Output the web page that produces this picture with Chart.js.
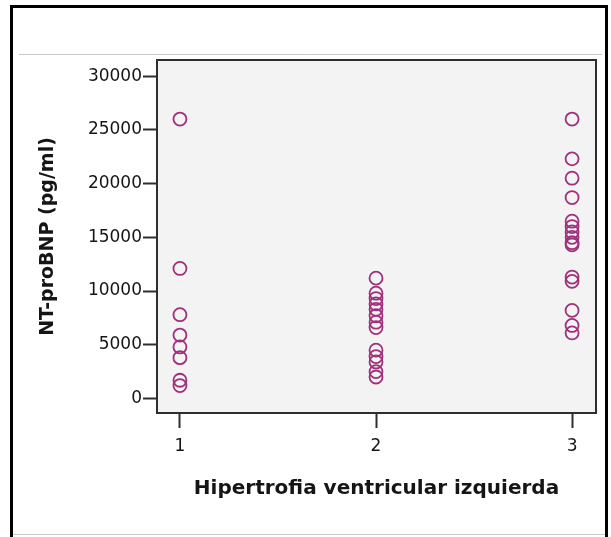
<!DOCTYPE html>
<html>
<head>
<meta charset="utf-8">
<script src="https://cdn.jsdelivr.net/npm/chart.js@4.4.1/dist/chart.umd.min.js"></script>
<style>
	html, body { margin: 0; padding: 0; background: #ffffff; }
	#wrap { width: 611px; height: 537px; }
</style>
</head>
<body>
<div id="wrap"><canvas id="chart" width="611" height="537"></canvas></div>
<script>

// values, one list per group
let groups = [1, 2, 3];
let group1 = [26000, 12100, 7800, 5900, 4800, 3800, 1700, 1200];
let group2 = [11200, 9800, 9300, 8800, 8300, 7700, 7100, 6600, 4500, 3900, 3400, 2500, 2000];
let group3 = [26000, 22300, 20500, 18700, 16500, 16000, 15500, 15000, 14500, 14300, 11300, 10900, 8200, 6800, 6100];

let yTicks = [0, 5000, 10000, 15000, 20000, 25000, 30000];
let xTicks = [1, 2, 3];

let xTitle = "Hipertrofia ventricular izquierda";
let yTitle = "NT-proBNP (pg/ml)";

let pointColor = "#a0307c";
let boxColor = "#2e2e2e";
let textColor = "#151515";

function toPoints(group, values) {

	return values.map(function(v) {
		return { x: group, y: v };
	});

}

let allPoints = [];
[group1, group2, group3].forEach(function(values, i) {

	allPoints = allPoints.concat(toPoints(groups[i], values));

});

// page frame and the grey plot box behind the points
let frame = {
	id: "frame",
	beforeDraw: function(chart) {

		let ctx = chart.ctx;
		let a = chart.chartArea;

		ctx.save();

		ctx.strokeStyle = "#000000";
		ctx.lineWidth = 3;
		ctx.beginPath();
		ctx.moveTo(11.5, 545);
		ctx.lineTo(11.5, 6.5);
		ctx.lineTo(606.5, 6.5);
		ctx.lineTo(606.5, 545);
		ctx.stroke();

		ctx.strokeStyle = "#c8c8c8";
		ctx.lineWidth = 1;
		ctx.beginPath();
		ctx.moveTo(19, 54.5);
		ctx.lineTo(602, 54.5);
		ctx.moveTo(13, 534.5);
		ctx.lineTo(605, 534.5);
		ctx.stroke();

		ctx.fillStyle = "#f3f3f3";
		ctx.fillRect(a.left, a.top, a.right - a.left, a.bottom - a.top);

		ctx.restore();

	},
	afterDatasetsDraw: function(chart) {

		let ctx = chart.ctx;
		let a = chart.chartArea;

		ctx.save();
		ctx.strokeStyle = boxColor;
		ctx.lineWidth = 2;
		ctx.strokeRect(a.left, a.top, a.right - a.left, a.bottom - a.top);
		ctx.restore();

	}
};

let tickFont = { family: "'DejaVu Sans', sans-serif", size: 17 };

new Chart(document.getElementById("chart"), {
	type: "scatter",
	data: {
		datasets: [{
			data: allPoints,
			pointStyle: "circle",
			pointRadius: 6.5,
			pointHoverRadius: 6.5,
			borderColor: pointColor,
			backgroundColor: "rgba(0,0,0,0)",
			borderWidth: 1.8
		}]
	},
	options: {
		responsive: false,
		animation: false,
		layout: {
			padding: { left: 0, right: 15, top: 60, bottom: 0 }
		},
		plugins: {
			legend: { display: false },
			tooltip: { enabled: false }
		},
		scales: {
			x: {
				type: "linear",
				min: 0.883,
				max: 3.122,
				afterBuildTicks: function(scale) {
					scale.ticks = xTicks.map(function(v) { return { value: v }; });
				},
				afterFit: function(scale) {
					scale.height = 124;
				},
				grid: {
					drawOnChartArea: false,
					drawTicks: true,
					tickLength: 15,
					tickWidth: 2,
					tickColor: boxColor
				},
				border: { display: false },
				ticks: {
					color: textColor,
					font: tickFont,
					padding: 8,
					maxRotation: 0
				},
				title: {
					display: true,
					text: xTitle,
					color: textColor,
					font: { family: "'DejaVu Sans', sans-serif", size: 20, weight: "bold" },
					padding: { top: 0, bottom: 36 }
				}
			},
			y: {
				type: "linear",
				min: -1350,
				max: 31500,
				afterBuildTicks: function(scale) {
					scale.ticks = yTicks.map(function(v) { return { value: v }; });
				},
				afterFit: function(scale) {
					scale.width = 157;
				},
				grid: {
					drawOnChartArea: false,
					drawTicks: true,
					tickLength: 14,
					tickWidth: 2,
					tickColor: boxColor
				},
				border: { display: false },
				ticks: {
					color: textColor,
					font: tickFont,
					padding: 1,
					callback: function(v) { return String(v); }
				},
				title: {
					display: true,
					text: yTitle,
					color: textColor,
					font: { family: "'DejaVu Sans', sans-serif", size: 19, weight: "bold" },
					padding: { top: 37, bottom: 0 }
				}
			}
		}
	},
	plugins: [frame]
});

</script>
</body>
</html>
